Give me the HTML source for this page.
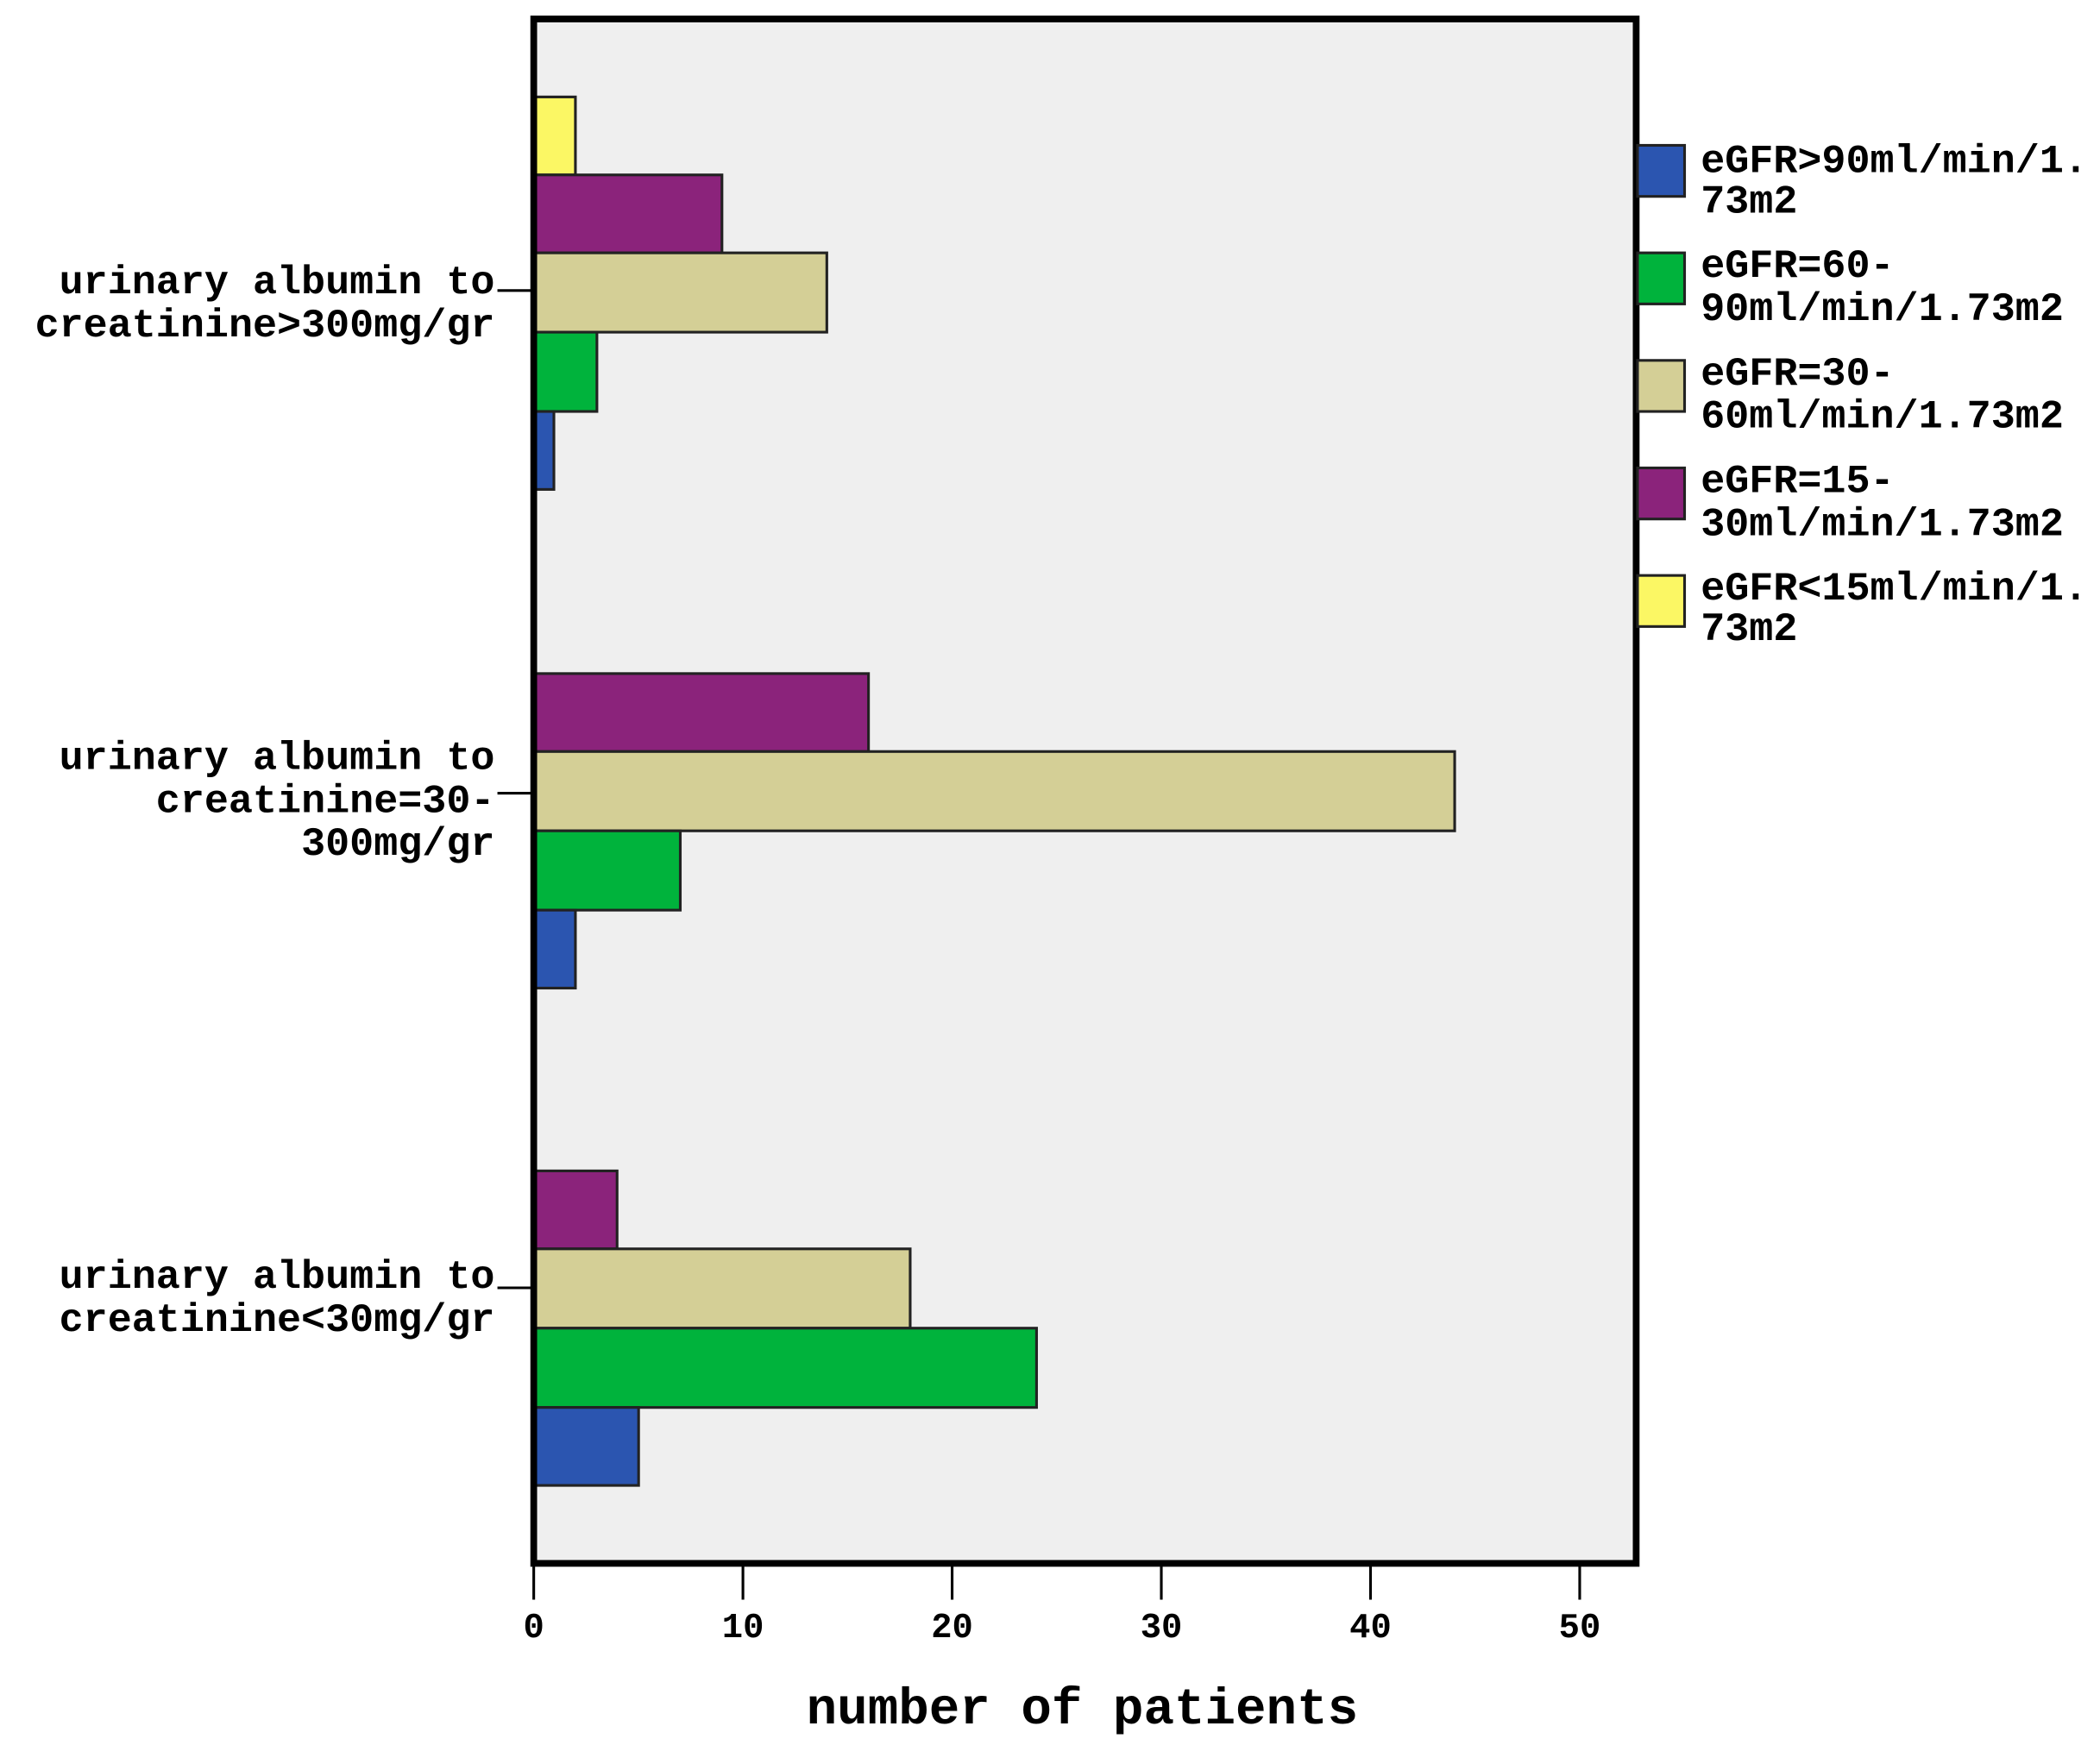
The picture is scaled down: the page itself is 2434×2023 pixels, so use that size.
<!DOCTYPE html>
<html><head><meta charset="utf-8"><style>html,body{margin:0;padding:0;background:#fff}svg{display:block}</style></head>
<body>
<svg width="2434" height="2023" viewBox="0 0 1562 1298" xmlns="http://www.w3.org/2000/svg" font-family="Liberation Mono, monospace" font-weight="bold">
<rect x="397" y="14" width="820" height="1149" fill="#efefef"/>
<g stroke="#222" stroke-width="2">
<!-- group 1 -->
<rect x="397" y="72" width="31" height="58" fill="#fbf764"/>
<rect x="397" y="130" width="140" height="58" fill="#8b237b"/>
<rect x="397" y="188" width="218" height="59" fill="#d4cf96"/>
<rect x="397" y="247" width="47" height="59" fill="#00b33c"/>
<rect x="397" y="306" width="15" height="58" fill="#2b55b0"/>
<!-- group 2 -->
<rect x="397" y="501" width="249" height="58" fill="#8b237b"/>
<rect x="397" y="559" width="685" height="59" fill="#d4cf96"/>
<rect x="397" y="618" width="109" height="59" fill="#00b33c"/>
<rect x="397" y="677" width="31" height="58" fill="#2b55b0"/>
<!-- group 3 -->
<rect x="397" y="871" width="62" height="58" fill="#8b237b"/>
<rect x="397" y="929" width="280" height="59" fill="#d4cf96"/>
<rect x="397" y="988" width="374" height="59" fill="#00b33c"/>
<rect x="397" y="1047" width="78" height="58" fill="#2b55b0"/>
</g>
<rect x="397" y="14" width="820" height="1149" fill="none" stroke="#000" stroke-width="5"/>
<g stroke="#000" stroke-width="2">
<line x1="370" y1="216" x2="397" y2="216"/><line x1="370" y1="590" x2="397" y2="590"/><line x1="370" y1="958" x2="397" y2="958"/>
<line x1="397" y1="1163" x2="397" y2="1190"/><line x1="552.6" y1="1163" x2="552.6" y2="1190"/><line x1="708.2" y1="1163" x2="708.2" y2="1190"/><line x1="863.8" y1="1163" x2="863.8" y2="1190"/><line x1="1019.4" y1="1163" x2="1019.4" y2="1190"/><line x1="1175" y1="1163" x2="1175" y2="1190"/>
</g>
<g font-size="26" text-anchor="middle" fill="#000">
<text x="397" y="1218">0</text><text x="552.6" y="1218">10</text><text x="708.2" y="1218">20</text><text x="863.8" y="1218">30</text><text x="1019.4" y="1218">40</text><text x="1175" y="1218">50</text>
</g>
<text x="805" y="1282" font-size="38" text-anchor="middle">number of patients</text>
<g font-size="30" text-anchor="end" fill="#000">
<text x="368" y="218">urinary albumin to</text><text x="368" y="250">creatinine&gt;300mg/gr</text>
<text x="368" y="572">urinary albumin to</text><text x="368" y="604">creatinine=30-</text><text x="368" y="636">300mg/gr</text>
<text x="368" y="958">urinary albumin to</text><text x="368" y="990">creatinine&lt;30mg/gr</text>
</g>
<g stroke="#222" stroke-width="2">
<rect x="1218" y="108" width="35" height="38" fill="#2b55b0"/>
<rect x="1218" y="188" width="35" height="38" fill="#00b33c"/>
<rect x="1218" y="268" width="35" height="38" fill="#d4cf96"/>
<rect x="1218" y="348" width="35" height="38" fill="#8b237b"/>
<rect x="1218" y="428" width="35" height="38" fill="#fbf764"/>
</g>
<g font-size="30" fill="#000">
<text x="1265" y="128">eGFR&gt;90ml/min/1.</text><text x="1265" y="158">73m2</text>
<text x="1265" y="206">eGFR=60-</text><text x="1265" y="238">90ml/min/1.73m2</text>
<text x="1265" y="286">eGFR=30-</text><text x="1265" y="318">60ml/min/1.73m2</text>
<text x="1265" y="366">eGFR=15-</text><text x="1265" y="398">30ml/min/1.73m2</text>
<text x="1265" y="446">eGFR&lt;15ml/min/1.</text><text x="1265" y="476">73m2</text>
</g>
</svg>
</body></html>
